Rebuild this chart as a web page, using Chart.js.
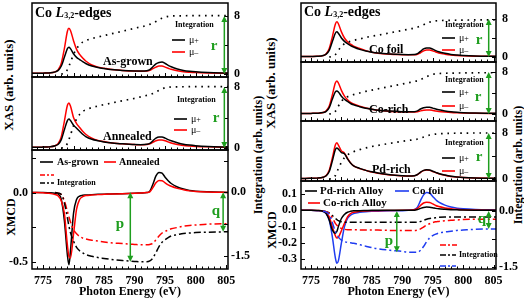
<!DOCTYPE html>
<html>
<head>
<meta charset="utf-8">
<script src="https://cdn.jsdelivr.net/npm/chart.js@4.4.1/dist/chart.umd.min.js"></script>
<style>
  html, body { margin: 0; padding: 0; background: #fff; }
  body { position: relative; width: 524px; height: 300px; overflow: hidden; font-family: "Liberation Serif", serif; }
  canvas { position: absolute; }
  .vt { position: absolute; font-weight: bold; white-space: nowrap; color: #000;
        transform: translate(-50%, -50%) rotate(-90deg); }
</style>
</head>
<body>
<div class="vt" style="left:9px;top:85px;font-size:13px">XAS (arb. units)</div>
<div class="vt" style="left:11px;top:217px;font-size:12px">XMCD</div>
<div class="vt" style="left:258px;top:155px;font-size:12px">Integration (arb. units)</div>
<div class="vt" style="left:271px;top:83px;font-size:13px">XAS (arb. units)</div>
<div class="vt" style="left:272px;top:230px;font-size:12px">XMCD</div>
<div class="vt" style="left:518px;top:165px;font-size:12px">Integration (arb. units)</div>
<script>
// photon energy grid (eV), shared by every curve
const energy = [773.2, 774, 775, 776, 777, 777.5, 778, 778.5, 779, 779.25, 779.5, 780, 780.5, 781, 781.5, 782,
  783, 784, 785, 786, 788, 790, 791, 792, 792.5, 793, 793.5, 794, 794.5, 795, 795.5, 796, 797, 798, 799, 800, 802, 805.5];
const xTicks = [775, 780, 785, 790, 795, 800, 805];
const _ = null;

// left figure: XAS mu+ / mu- and integration (arb. units)
const asGrownPlus  = [0.1, 0.1, 0.12, 0.15, 0.3, 0.5, 1.1, 2.3, 3.5, 3.7, 3.5, 2.8, 2.3, 2.0, 1.7, 1.45, 1.1, 0.9, 0.75, 0.62, 0.5, 0.42, 0.4, 0.45, 0.6, 1.0, 1.4, 1.6, 1.65, 1.45, 1.2, 1.0, 0.7, 0.5, 0.38, 0.3, 0.2, 0.12];
const asGrownMinus = [0.1, 0.1, 0.12, 0.15, 0.3, 0.6, 1.5, 3.5, 5.9, 6.3, 6.0, 4.6, 3.4, 2.7, 2.2, 1.8, 1.25, 0.95, 0.8, 0.65, 0.5, 0.4, 0.38, 0.4, 0.5, 0.75, 0.95, 1.1, 1.1, 0.95, 0.8, 0.65, 0.45, 0.32, 0.25, 0.2, 0.15, 0.1];
const asGrownInt   = [_, _, _, _, _, _, 0, 0.1, 0.6, 1.1, 1.6, 2.7, 3.5, 4.0, 4.4, 4.6, 4.9, 5.1, 5.3, 5.5, 5.9, 6.3, 6.5, 6.7, 6.85, 7.0, 7.25, 7.5, 7.7, 7.85, 7.95, 8.0, 8.02, 8.03, 8.04, 8.05, 8.05, 8.05];
const annealedPlus  = [0.1, 0.1, 0.12, 0.15, 0.3, 0.5, 1.1, 2.4, 3.6, 3.8, 3.6, 3.0, 2.6, 2.2, 1.8, 1.5, 1.15, 0.95, 0.8, 0.68, 0.55, 0.45, 0.43, 0.48, 0.6, 0.95, 1.3, 1.45, 1.45, 1.3, 1.1, 0.95, 0.7, 0.5, 0.38, 0.3, 0.2, 0.12];
const annealedMinus = [0.1, 0.1, 0.12, 0.15, 0.3, 0.6, 1.5, 3.5, 5.6, 5.9, 5.5, 4.0, 3.2, 2.7, 2.2, 1.8, 1.3, 1.0, 0.85, 0.7, 0.55, 0.45, 0.42, 0.45, 0.55, 0.75, 0.95, 1.05, 1.05, 0.95, 0.8, 0.65, 0.45, 0.32, 0.25, 0.2, 0.15, 0.1];
const annealedInt   = [_, _, _, _, _, _, 0, 0.1, 0.6, 1.1, 1.7, 2.9, 3.8, 4.4, 4.8, 5.0, 5.3, 5.5, 5.7, 5.85, 6.2, 6.5, 6.7, 6.9, 7.0, 7.15, 7.35, 7.55, 7.75, 7.9, 7.95, 8.0, 8.02, 8.03, 8.04, 8.05, 8.05, 8.05];
// left figure: XMCD and its integration
const xmcdAsGrown  = [0, 0, 0, -0.002, -0.005, -0.01, -0.05, -0.2, -0.45, -0.52, -0.42, -0.15, -0.05, -0.025, -0.02, -0.018, -0.015, -0.013, -0.012, -0.01, -0.008, -0.005, -0.003, 0, 0.01, 0.06, 0.12, 0.145, 0.14, 0.11, 0.085, 0.065, 0.04, 0.025, 0.015, 0.01, 0.005, 0];
const xmcdAnnealed = [0, 0, -0.002, -0.005, -0.015, -0.025, -0.06, -0.15, -0.38, -0.46, -0.47, -0.3, -0.12, -0.05, -0.03, -0.022, -0.018, -0.015, -0.013, -0.011, -0.009, -0.006, -0.004, 0, 0.005, 0.035, 0.07, 0.087, 0.085, 0.07, 0.055, 0.045, 0.03, 0.02, 0.012, 0.008, 0.004, 0];
const intAsGrown   = [_, _, _, _, 0, -0.02, -0.05, -0.25, -0.6, -0.8, -0.95, -1.15, -1.3, -1.38, -1.43, -1.47, -1.51, -1.54, -1.56, -1.58, -1.61, -1.63, -1.64, -1.64, -1.62, -1.55, -1.42, -1.28, -1.18, -1.12, -1.07, -1.03, -1.0, -0.97, -0.96, -0.95, -0.94, -0.93];
const intAnnealed  = [_, _, _, _, 0, -0.02, -0.05, -0.2, -0.45, -0.58, -0.7, -0.88, -0.98, -1.04, -1.08, -1.1, -1.13, -1.15, -1.17, -1.19, -1.21, -1.23, -1.24, -1.24, -1.23, -1.2, -1.12, -1.03, -0.96, -0.92, -0.89, -0.86, -0.83, -0.8, -0.78, -0.77, -0.75, -0.74];

// right figure: Co foil, Co-rich, Pd-rich
const coFoilPlus  = [0.1, 0.1, 0.12, 0.15, 0.3, 0.6, 1.4, 3.2, 5.0, 5.3, 5.0, 4.0, 3.3, 2.8, 2.4, 2.1, 1.6, 1.25, 1.0, 0.82, 0.62, 0.52, 0.5, 0.52, 0.7, 1.2, 1.7, 1.9, 1.9, 1.65, 1.35, 1.1, 0.78, 0.55, 0.42, 0.33, 0.22, 0.14];
const coFoilMinus = [0.1, 0.1, 0.12, 0.15, 0.3, 0.7, 1.8, 4.2, 6.9, 7.4, 7.0, 5.3, 4.0, 3.2, 2.7, 2.3, 1.8, 1.35, 1.0, 0.8, 0.6, 0.5, 0.45, 0.45, 0.55, 0.9, 1.3, 1.5, 1.5, 1.3, 1.05, 0.85, 0.6, 0.42, 0.32, 0.25, 0.18, 0.12];
const coFoilInt   = [_, _, _, _, _, _, 0, 0.1, 0.5, 0.9, 1.4, 2.2, 2.8, 3.1, 3.3, 3.5, 3.8, 4.1, 4.4, 4.6, 5.1, 5.6, 5.85, 6.1, 6.3, 6.5, 6.8, 7.1, 7.35, 7.5, 7.6, 7.65, 7.7, 7.72, 7.75, 7.77, 7.8, 7.8];
const coRichPlus  = [0.1, 0.1, 0.12, 0.15, 0.28, 0.5, 1.2, 2.8, 4.2, 4.4, 4.2, 3.4, 2.8, 2.4, 2.0, 1.75, 1.4, 1.1, 0.9, 0.72, 0.55, 0.45, 0.43, 0.45, 0.6, 0.95, 1.2, 1.3, 1.28, 1.12, 0.95, 0.8, 0.58, 0.42, 0.32, 0.26, 0.18, 0.12];
const coRichMinus = [0.1, 0.1, 0.12, 0.15, 0.3, 0.6, 1.5, 3.6, 5.9, 6.3, 5.9, 4.5, 3.4, 2.7, 2.2, 1.9, 1.5, 1.15, 0.9, 0.7, 0.5, 0.4, 0.38, 0.38, 0.45, 0.6, 0.72, 0.78, 0.76, 0.68, 0.58, 0.5, 0.38, 0.28, 0.22, 0.18, 0.14, 0.1];
const coRichInt   = [_, _, _, _, _, _, 0, 0.1, 0.5, 1.0, 1.5, 2.4, 3.0, 3.3, 3.5, 3.7, 4.0, 4.3, 4.55, 4.8, 5.25, 5.7, 5.95, 6.2, 6.35, 6.55, 6.8, 7.1, 7.35, 7.55, 7.65, 7.7, 7.75, 7.78, 7.8, 7.82, 7.85, 7.85];
const pdRichPlus  = [0.1, 0.1, 0.12, 0.15, 0.3, 0.55, 1.3, 3.1, 5.1, 5.4, 5.2, 4.6, 4.4, 3.5, 2.8, 2.3, 1.85, 1.5, 1.25, 1.05, 0.75, 0.58, 0.53, 0.58, 0.78, 1.2, 1.5, 1.6, 1.55, 1.35, 1.15, 0.95, 0.68, 0.47, 0.35, 0.27, 0.18, 0.11];
const pdRichMinus = [0.1, 0.1, 0.12, 0.15, 0.3, 0.6, 1.5, 3.6, 5.9, 6.3, 5.9, 4.9, 4.5, 3.6, 2.8, 2.3, 1.8, 1.5, 1.2, 1.0, 0.7, 0.55, 0.5, 0.55, 0.75, 1.15, 1.45, 1.55, 1.5, 1.3, 1.1, 0.92, 0.65, 0.45, 0.33, 0.25, 0.17, 0.1];
const pdRichInt   = [_, _, _, _, _, _, 0, 0.1, 0.6, 1.2, 1.8, 2.9, 3.7, 4.2, 4.5, 4.75, 5.1, 5.4, 5.65, 5.85, 6.2, 6.55, 6.7, 6.85, 6.95, 7.1, 7.3, 7.5, 7.65, 7.75, 7.82, 7.88, 7.92, 7.95, 7.97, 7.98, 8.0, 8.0];
// right figure: XMCD and integration
const xmcdCoFoil = [0, 0, 0, -0.002, -0.008, -0.02, -0.06, -0.16, -0.29, -0.325, -0.31, -0.2, -0.1, -0.05, -0.03, -0.02, -0.012, -0.008, -0.006, -0.005, -0.003, -0.002, 0, 0.005, 0.02, 0.06, 0.095, 0.11, 0.105, 0.085, 0.065, 0.05, 0.032, 0.02, 0.013, 0.009, 0.005, 0.002];
const xmcdCoRich = [0, 0, 0, -0.001, -0.005, -0.015, -0.04, -0.1, -0.155, -0.17, -0.165, -0.125, -0.08, -0.04, -0.02, -0.012, -0.006, -0.004, -0.003, -0.002, -0.001, 0, 0, 0.003, 0.012, 0.03, 0.045, 0.05, 0.048, 0.04, 0.03, 0.023, 0.015, 0.01, 0.006, 0.004, 0.002, 0.001];
const xmcdPdRich = [0, 0, 0, -0.001, -0.006, -0.02, -0.06, -0.12, -0.14, -0.13, -0.1, -0.05, -0.025, -0.012, -0.006, -0.003, -0.002, -0.001, 0, 0, 0, 0, 0, 0.001, 0.005, 0.012, 0.018, 0.02, 0.019, 0.016, 0.012, 0.009, 0.006, 0.004, 0.003, 0.002, 0.001, 0];
const intCoFoil = [_, _, _, _, 0, -0.03, -0.1, -0.3, -0.55, -0.62, -0.7, -0.78, -0.82, -0.84, -0.85, -0.86, -0.9, -0.94, -0.98, -1.01, -1.05, -1.08, -1.1, -1.1, -1.1, -1.05, -0.95, -0.82, -0.72, -0.66, -0.62, -0.59, -0.56, -0.54, -0.52, -0.51, -0.49, -0.48];
const intCoRich = [_, _, _, _, 0, -0.02, -0.06, -0.18, -0.33, -0.38, -0.42, -0.47, -0.49, -0.5, -0.5, -0.5, -0.51, -0.51, -0.51, -0.51, -0.52, -0.52, -0.52, -0.52, -0.51, -0.48, -0.43, -0.38, -0.34, -0.31, -0.29, -0.28, -0.26, -0.25, -0.24, -0.23, -0.22, -0.22];
const intPdRich = [_, _, _, _, 0, -0.02, -0.05, -0.12, -0.2, -0.23, -0.26, -0.29, -0.3, -0.3, -0.3, -0.3, -0.3, -0.3, -0.3, -0.3, -0.3, -0.3, -0.3, -0.3, -0.3, -0.28, -0.25, -0.22, -0.2, -0.19, -0.18, -0.17, -0.16, -0.16, -0.16, -0.16, -0.16, -0.16];

const FONT = '"Liberation Serif", serif';
const RED = '#ff0000', BLUE = '#1f3cf0', GREEN = '#1f9e1f';
const DOT = [1.6, 4.8], DASHDOT = [7, 3, 2, 3];

function series(values, axis, color, dash) {
  return {
    data: values.map((v, i) => ({ x: energy[i], y: v })),
    yAxisID: axis,
    borderColor: color,
    borderWidth: dash === DOT ? 1.7 : 1.5,
    borderDash: dash || [],
    pointRadius: 0,
    fill: false,
    spanGaps: false,
    cubicInterpolationMode: 'monotone'
  };
}

// box + inward tick marks
const framePlugin = {
  id: 'frame',
  afterDatasetsDraw(chart, args, opts) {
    const { left, right, top, bottom } = chart.chartArea;
    const ctx = chart.ctx;
    ctx.save();
    ctx.strokeStyle = '#000';
    ctx.lineWidth = 1.5;
    ctx.strokeRect(left, top, right - left, bottom - top);
    ctx.lineWidth = 1;
    ctx.beginPath();
    const xs = chart.scales.x;
    for (let e = 774; e <= 805; e++) {
      const px = Math.round(xs.getPixelForValue(e)) + 0.5;
      ctx.moveTo(px, bottom);
      ctx.lineTo(px, bottom - (e % 5 === 0 ? 4 : 2.5));
    }
    for (const id of ['y', 'y2']) {
      const marks = opts[id] || [];
      const s = chart.scales[id];
      for (const v of marks) {
        const py = Math.round(s.getPixelForValue(v)) + 0.5;
        const x0 = id === 'y' ? left : right;
        ctx.moveTo(x0, py);
        ctx.lineTo(x0 + (id === 'y' ? 4 : -4), py);
      }
    }
    ctx.stroke();
    ctx.restore();
  }
};

function arrowHead(ctx, x, y, dir) {
  ctx.beginPath();
  ctx.moveTo(x, y);
  ctx.lineTo(x - 3, y + dir * 6);
  ctx.lineTo(x + 3, y + dir * 6);
  ctx.closePath();
  ctx.fill();
}

// labels, keys and p/q/r arrows (page coordinates)
const notesPlugin = {
  id: 'notes',
  afterDraw(chart, args, opts) {
    const ctx = chart.ctx;
    ctx.save();
    ctx.translate(-opts.ox, -opts.oy);
    ctx.textBaseline = 'middle';
    for (const n of opts.items) {
      if (n.t === 'text') {
        ctx.font = `bold ${n.size}px ${FONT}`;
        ctx.fillStyle = n.color || '#000';
        ctx.textAlign = n.align || 'left';
        ctx.fillText(n.s, n.x, n.y);
      } else if (n.t === 'key') {
        ctx.strokeStyle = n.color;
        ctx.lineWidth = 1.6;
        ctx.setLineDash(n.dash || []);
        ctx.beginPath();
        ctx.moveTo(n.x1, n.y);
        ctx.lineTo(n.x2, n.y);
        ctx.stroke();
        ctx.setLineDash([]);
      } else if (n.t === 'mu') {
        ctx.fillStyle = '#000';
        ctx.textAlign = 'left';
        ctx.font = `10px ${FONT}`;
        ctx.fillText('\u03bc', n.x, n.y);
        const w = ctx.measureText('\u03bc').width;
        ctx.font = `8px ${FONT}`;
        ctx.fillText(n.sign, n.x + w, n.y + 1);
      } else if (n.t === 'edges') {
        let x = n.x;
        ctx.fillStyle = '#000';
        ctx.textAlign = 'left';
        const parts = [['Co ', `bold 14px ${FONT}`, 0], ['L', `italic bold 14px ${FONT}`, 0],
                       ['3,2', `bold 8px ${FONT}`, 3], ['-edges', `bold 14px ${FONT}`, 0]];
        for (const [s, f, dy] of parts) {
          ctx.font = f;
          ctx.fillText(s, x, n.y + dy);
          x += ctx.measureText(s).width;
        }
      } else if (n.t === 'arrow') {
        const x = chart.scales.x.getPixelForValue(n.e) + opts.ox;
        const s = chart.scales[n.axis];
        const ya = s.getPixelForValue(n.from) + opts.oy;
        const yb = s.getPixelForValue(n.to) + opts.oy;
        const top = Math.min(ya, yb), bot = Math.max(ya, yb);
        ctx.strokeStyle = GREEN;
        ctx.fillStyle = GREEN;
        ctx.lineWidth = 1.5;
        ctx.beginPath();
        ctx.moveTo(x, top + 4);
        ctx.lineTo(x, bot - 4);
        ctx.stroke();
        arrowHead(ctx, x, top, 1);
        arrowHead(ctx, x, bot, -1);
      }
    }
    ctx.restore();
  }
};

function yScale(pos, range, labels, fmt, width, pad) {
  return {
    type: 'linear',
    position: pos,
    min: range[0],
    max: range[1],
    display: !!labels,
    grid: { display: false, drawTicks: false },
    border: { display: false },
    ticks: { font: { size: 12, weight: 'bold', family: FONT }, color: '#000', padding: pad, callback: fmt, autoSkip: false },
    afterBuildTicks: s => { if (labels) s.ticks = labels.map(v => ({ value: v })); },
    afterFit: s => { s.width = width; s.paddingTop = 0; s.paddingBottom = 0; }
  };
}

// p: canvas box, plot insets, axis ranges, datasets, notes
function panel(p) {
  const cv = document.createElement('canvas');
  cv.width = p.w;
  cv.height = p.h;
  cv.style.left = p.x + 'px';
  cv.style.top = p.y + 'px';
  document.body.appendChild(cv);
  const xmcd = !!p.xH;
  const fmt1 = v => v.toFixed(1);
  const fmtXas = v => (v === 4 ? '' : String(v));
  new Chart(cv, {
    type: 'line',
    data: { datasets: p.datasets },
    plugins: [framePlugin, notesPlugin],
    options: {
      responsive: false,
      animation: false,
      events: [],
      devicePixelRatio: 1,
      layout: { padding: { left: xmcd ? 0 : p.padL, right: 0, top: p.padT, bottom: xmcd ? 0 : p.padB } },
      plugins: {
        legend: { display: false },
        tooltip: { enabled: false },
        frame: { y: p.leftMarks, y2: p.rightMarks },
        notes: { ox: p.x, oy: p.y, items: p.notes }
      },
      scales: {
        x: {
          type: 'linear',
          min: p.xMin,
          max: p.xMax,
          display: xmcd,
          grid: { display: false, drawTicks: false },
          border: { display: false },
          ticks: { font: { size: 12, weight: 'bold', family: FONT }, color: '#000', padding: 5, maxRotation: 0, autoSkip: false, callback: v => String(v) },
          afterBuildTicks: s => { s.ticks = xTicks.map(v => ({ value: v })); },
          afterFit: s => { if (xmcd) s.height = p.xH; s.paddingLeft = 0; s.paddingRight = 0; },
          title: { display: xmcd, text: 'Photon Energy (eV)', color: '#000', font: { size: 12, weight: 'bold', family: FONT }, padding: { top: 0, bottom: 1 } }
        },
        y: xmcd ? yScale('left', p.yL, p.leftLabels, fmt1, p.padL, 4) : yScale('left', p.yL, null, null, 0, 0),
        y2: xmcd ? yScale('right', p.yR, p.rightLabels, fmt1, p.padR, 3) : yScale('right', p.yR, [0, 4, 8], fmtXas, p.padR, 6)
      }
    }
  });
}

function xasNotes(o) {
  const n = [
    { t: 'text', s: 'Integration', x: o.ix, y: o.iy, size: 8 },
    { t: 'key', x1: o.ix - 3, x2: o.ix + 10, y: o.py, color: '#000' },
    { t: 'mu', x: o.ix + 14, y: o.py, sign: '+' },
    { t: 'key', x1: o.ix - 3, x2: o.ix + 10, y: o.my, color: RED },
    { t: 'mu', x: o.ix + 14, y: o.my, sign: '\u2013' },
    { t: 'text', s: o.label, x: o.lx, y: o.ly, size: 12 },
    { t: 'arrow', e: o.ae, from: 0, to: 8, axis: 'y2' },
    { t: 'text', s: 'r', x: o.rx, y: o.ry, size: 15, color: GREEN, align: 'center' }
  ];
  if (o.edges) n.push({ t: 'edges', x: o.edges[0], y: o.edges[1] });
  return n;
}

function xasSets(plus, minus, integ) {
  return [series(integ, 'y2', '#000', DOT), series(plus, 'y', '#000'), series(minus, 'y', RED)];
}

const L = { x: 0, w: 262, padL: 32, padR: 34, xMin: 773.2, xMax: 805.3 };
const R = { x: 262, w: 262, padL: 39, padR: 28, xMin: 773.36, xMax: 805.4 };

// ---- left figure ----
panel(Object.assign({}, L, {
  y: 0, h: 85, padT: 3, padB: 8, yL: [-0.41, 9.79], yR: [-0.41, 9.79], rightMarks: [0, 4, 8],
  datasets: xasSets(asGrownPlus, asGrownMinus, asGrownInt),
  notes: xasNotes({ ix: 175, iy: 25, py: 40, my: 52, label: 'As-grown', lx: 103, ly: 62, ae: 804.7, rx: 214, ry: 46, edges: [35, 13] })
}));
panel(Object.assign({}, L, {
  y: 69, h: 89, padT: 8, padB: 8, yL: [-0.26, 9.31], yR: [-0.26, 9.31], rightMarks: [0, 4, 8],
  datasets: xasSets(annealedPlus, annealedMinus, annealedInt),
  notes: xasNotes({ ix: 177, iy: 100, py: 119, my: 130, label: 'Annealed', lx: 103, ly: 137, ae: 804.7, rx: 216, ry: 118 })
}));
panel(Object.assign({}, L, {
  y: 142, h: 158, padT: 8, xH: 31, yL: [-0.55, 0.306], yR: [-1.81, 1.0],
  leftLabels: [-0.5, 0], rightLabels: [-1.5, 0], leftMarks: [-0.5, -0.25, 0, 0.25], rightMarks: [-1.5, -0.75, 0, 0.75],
  datasets: [
    series(intAsGrown, 'y2', '#000', DASHDOT), series(intAnnealed, 'y2', RED, DASHDOT),
    series(xmcdAnnealed, 'y', RED), series(xmcdAsGrown, 'y', '#000')
  ],
  notes: [
    { t: 'key', x1: 40, x2: 53, y: 162, color: '#000' },
    { t: 'text', s: 'As-grown', x: 57, y: 162, size: 10 },
    { t: 'key', x1: 104, x2: 116, y: 162, color: RED },
    { t: 'text', s: 'Annealed', x: 119, y: 162, size: 10 },
    { t: 'key', x1: 40, x2: 54, y: 175, color: RED, dash: [5, 2, 2, 2] },
    { t: 'key', x1: 40, x2: 54, y: 183, color: '#000', dash: [5, 2, 2, 2] },
    { t: 'text', s: 'Integration', x: 57, y: 183, size: 8 },
    { t: 'arrow', e: 789.3, from: 0, to: -1.64, axis: 'y2' },
    { t: 'text', s: 'p', x: 120, y: 224, size: 15, color: GREEN, align: 'center' },
    { t: 'arrow', e: 804.5, from: 0, to: -0.93, axis: 'y2' },
    { t: 'text', s: 'q', x: 216, y: 211, size: 15, color: GREEN, align: 'center' }
  ]
}));

// ---- right figure ----
panel(Object.assign({}, R, {
  y: 0, h: 70, padT: 3, padB: 8, yL: [-1.05, 11.37], yR: [-1.05, 11.37], rightMarks: [0, 4, 8],
  datasets: xasSets(coFoilPlus, coFoilMinus, coFoilInt),
  notes: xasNotes({ ix: 445, iy: 25, py: 38, my: 50, label: 'Co foil', lx: 369, ly: 50, ae: 804.2, rx: 479, ry: 40, edges: [304, 12] })
}));
panel(Object.assign({}, R, {
  y: 54, h: 75, padT: 8, padB: 8, yL: [-1.33, 9.9], yR: [-1.33, 9.9], rightMarks: [0, 4, 8],
  datasets: xasSets(coRichPlus, coRichMinus, coRichInt),
  notes: xasNotes({ ix: 445, iy: 80, py: 92, my: 106, label: 'Co-rich', lx: 369, ly: 110, ae: 804.2, rx: 478, ry: 97 })
}));
panel(Object.assign({}, R, {
  y: 113, h: 76, padT: 8, padB: 8, yL: [-0.35, 10.09], yR: [-0.35, 10.09], rightMarks: [0, 4, 8],
  datasets: xasSets(pdRichPlus, pdRichMinus, pdRichInt),
  notes: xasNotes({ ix: 445, iy: 143, py: 158, my: 171, label: 'Pd-rich', lx: 372, ly: 170, ae: 804.2, rx: 479, ry: 157 })
}));
panel(Object.assign({}, R, {
  y: 173, h: 127, padT: 8, xH: 31, yL: [-0.36, 0.18], yR: [-1.55, 0.8],
  leftLabels: [-0.3, -0.2, -0.1, 0, 0.1], rightLabels: [-1.5, 0], leftMarks: [-0.3, -0.2, -0.1, 0, 0.1], rightMarks: [-1.5, -0.75, 0],
  datasets: [
    series(intCoFoil, 'y2', BLUE, DASHDOT), series(intCoRich, 'y2', RED, DASHDOT), series(intPdRich, 'y2', '#000', DASHDOT),
    series(xmcdPdRich, 'y', '#000'), series(xmcdCoRich, 'y', RED), series(xmcdCoFoil, 'y', BLUE)
  ],
  notes: [
    { t: 'key', x1: 305, x2: 317, y: 191, color: '#000' },
    { t: 'text', s: 'Pd-rich Alloy', x: 320, y: 191, size: 11 },
    { t: 'key', x1: 395, x2: 409, y: 191, color: BLUE },
    { t: 'text', s: 'Co foil', x: 412, y: 191, size: 11 },
    { t: 'key', x1: 308, x2: 320, y: 203, color: RED },
    { t: 'text', s: 'Co-rich Alloy', x: 323, y: 203, size: 11 },
    { t: 'key', x1: 440, x2: 457, y: 245, color: RED, dash: [6, 2, 2, 2] },
    { t: 'key', x1: 440, x2: 456, y: 255, color: '#000', dash: [6, 2, 2, 2] },
    { t: 'text', s: 'Integration', x: 459, y: 255, size: 8 },
    { t: 'key', x1: 440, x2: 456, y: 266, color: BLUE, dash: [6, 2, 2, 2] },
    { t: 'arrow', e: 789.1, from: 0, to: -1.1, axis: 'y2' },
    { t: 'text', s: 'p', x: 389, y: 241, size: 15, color: GREEN, align: 'center' },
    { t: 'arrow', e: 804.2, from: 0, to: -0.48, axis: 'y2' },
    { t: 'text', s: 'q', x: 482, y: 219, size: 15, color: GREEN, align: 'center' }
  ]
}));
</script>
</body>
</html>
